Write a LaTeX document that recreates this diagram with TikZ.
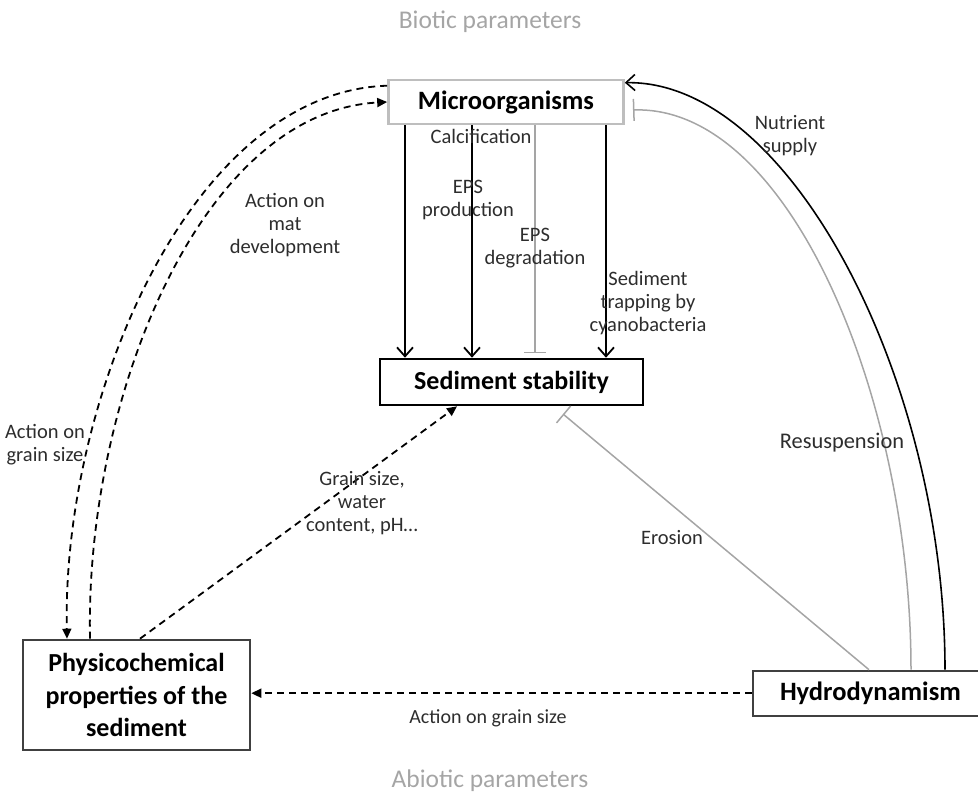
\documentclass[tikz,border=0pt]{standalone}
\usepackage{fontspec}
\setmainfont{Carlito}
\usetikzlibrary{arrows.meta}
\definecolor{lgray}{RGB}{165,165,165}
\definecolor{bgray}{RGB}{190,190,190}
\definecolor{txt}{RGB}{45,45,45}
\begin{document}
\begin{tikzpicture}[x=1pt,y=-1pt,
  box/.style={draw, line width=2.6pt, fill=white, align=center, inner sep=0pt, font=\bfseries},
  lbl/.style={text=txt, align=center, inner sep=0pt, font=\fontsize{20.5}{23}\selectfont},
  title/.style={text=lgray, inner sep=0pt, font=\fontsize{25.5}{28}\selectfont},
  solidarr/.style={line width=1.8pt, -{Straight Barb[length=9pt,width=16pt]}},
  inhib/.style={line width=1.5pt, draw=lgray, -{Bar[width=22pt]}},
  dasharr/.style={line width=1.8pt, dash pattern=on 7pt off 5pt, -{Triangle[length=10pt,width=9pt]}}]
\useasboundingbox (0,0) rectangle (978,805);

% titles
\node[title] (biotic) at (490,22) {Biotic parameters};
\node[title] (abiotic) at (490,781) {Abiotic parameters};

% boxes
\node[box, draw=bgray, minimum width=235pt, minimum height=44pt, font=\bfseries\fontsize{26.5}{30}\selectfont] (micro) at (506,102) {Microorganisms};
\node[box, draw=black, minimum width=263pt, minimum height=46pt, font=\bfseries\fontsize{26}{30}\selectfont] (sed) at (511.5,382) {Sediment stability};
\node[box, draw=black!75, minimum width=227pt, minimum height=110pt, font=\bfseries\fontsize{26}{32.5}\selectfont] (phys) at (136.5,695) {Physicochemical\\properties of the\\sediment};
\node[box, draw=black!75, minimum width=232pt, minimum height=45pt, font=\bfseries\fontsize{26.5}{28}\selectfont, text width=218pt, align=left] (hydro) at (869,693.5) {\hspace*{20pt}Hydrodynamism};

% helper coordinates
\coordinate (x405) at (405,0);
\coordinate (x472) at (472,0);
\coordinate (x535) at (535,0);
\coordinate (x606) at (606,0);
\coordinate (x67) at (67,0);
\coordinate (x90) at (90,0);
\coordinate (x140) at (140,0);
\coordinate (x457) at (457,0);
\coordinate (x869) at (869,0);
\coordinate (x911) at (911,0);
\coordinate (x945) at (945,0);
\coordinate (epsend) at (535,353);
\coordinate (eroend) at (563,414);
\coordinate (resend) at (633,110);

% vertical connectors
\draw[solidarr] (micro.south -| x405) -- (sed.north -| x405);
\draw[solidarr] (micro.south -| x472) -- (sed.north -| x472);
\draw[inhib] (micro.south -| x535) -- (epsend);
\draw[solidarr] (micro.south -| x606) -- (sed.north -| x606);

% curved dashed connectors
\draw[dasharr] ([yshift=-7pt]micro.north west) .. controls (190,92) and (62,400) .. (phys.north -| x67);
\draw[dasharr] (phys.north -| x90) .. controls (85,400) and (200,112) .. (micro.west);

% grain size
\draw[dasharr] (phys.north -| x140) -- (sed.south -| x457);

% bottom
\draw[dasharr] ([yshift=0.3pt]hydro.west) -- ([yshift=0.3pt]hydro.west -| phys.east);

% erosion
\draw[inhib] (hydro.north -| x869) -- (eroend);

% resuspension
\draw[inhib] (hydro.north -| x911) .. controls (911,400) and (790,105) .. (resend);

% nutrient supply
\draw[solidarr, line width=1.6pt] (hydro.north -| x945) .. controls (945,380) and (790,80) .. ([yshift=-4pt]micro.north east);

% labels
\node[lbl] (lcalc) at (481,136) {Calcification};
\node[lbl] (leps) at (468,200) {EPS\\production};
\node[lbl] (ldeg) at (535,248) {EPS\\degradation};
\node[lbl] (ltrap) at (648,303) {Sediment\\trapping by\\cyanobacteria};
\node[lbl] (lnut) at (790,136) {Nutrient\\supply};
\node[lbl] (lmat) at (285,225) {Action on\\mat\\development};
\node[lbl] (lgrain) at (45,445) {Action on\\grain size};
\node[lbl, font=\fontsize{22.4}{25}\selectfont] (lres) at (842,443) {Resuspension};
\node[lbl] (lero) at (672,538) {Erosion};
\node[lbl] (lgs) at (362,503) {Grain size,\\water\\content, pH…};
\node[lbl, font=\fontsize{20}{23}\selectfont] (lbot) at (488,718) {Action on grain size};
\end{tikzpicture}
\end{document}
